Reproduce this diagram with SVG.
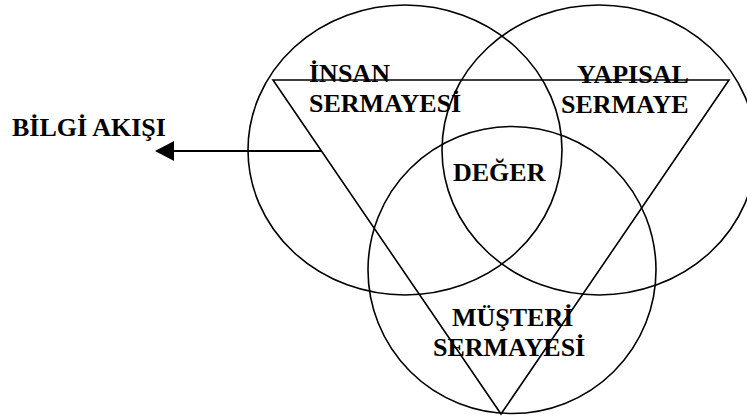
<svg xmlns="http://www.w3.org/2000/svg" width="747" height="418" viewBox="0 0 747 418">
<defs>
<style>
.sh{fill:none;stroke:#000;stroke-width:1.6}
.t{font-family:"Liberation Serif","Times New Roman",serif;font-weight:bold;font-size:26px;fill:#000}
</style>
<marker id="ah" markerWidth="20" markerHeight="20" refX="0" refY="10" orient="auto" markerUnits="userSpaceOnUse" viewBox="0 0 20 20">
<path d="M20,0 L0,10 L20,20 Z" fill="#000"/>
</marker>
</defs>
<rect width="747" height="418" fill="#fff"/>
<g id="insan-circle"><ellipse class="sh" cx="405" cy="150" rx="157" ry="145"/></g>
<g id="yapisal-circle"><ellipse class="sh" cx="599" cy="150" rx="157" ry="145"/></g>
<g id="musteri-circle"><ellipse class="sh" cx="512" cy="270" rx="144" ry="143.5"/></g>
<g id="triangle"><polygon class="sh" points="273,80 729,80 501,414"/></g>
<g id="connectors">
<line x1="321" y1="151" x2="174" y2="151" stroke="#000" stroke-width="1.8"/>
<path d="M174,141 L155,151 L174,161 Z" fill="#000"/>
</g>
<g id="bilgi-akisi"><text class="t" x="12" y="136">BİLGİ AKIŞI</text></g>
<g id="insan-sermayesi"><text class="t" x="309" y="82">İNSAN</text><text class="t" x="309" y="112">SERMAYESİ</text></g>
<g id="yapisal-sermaye"><text class="t" x="577" y="83">YAPISAL</text><text class="t" x="561" y="113">SERMAYE</text></g>
<g id="deger"><text class="t" x="453" y="181">DEĞER</text></g>
<g id="musteri-sermayesi"><text class="t" x="452" y="326">MÜŞTERİ</text><text class="t" x="433" y="356">SERMAYESİ</text></g>
</svg>
